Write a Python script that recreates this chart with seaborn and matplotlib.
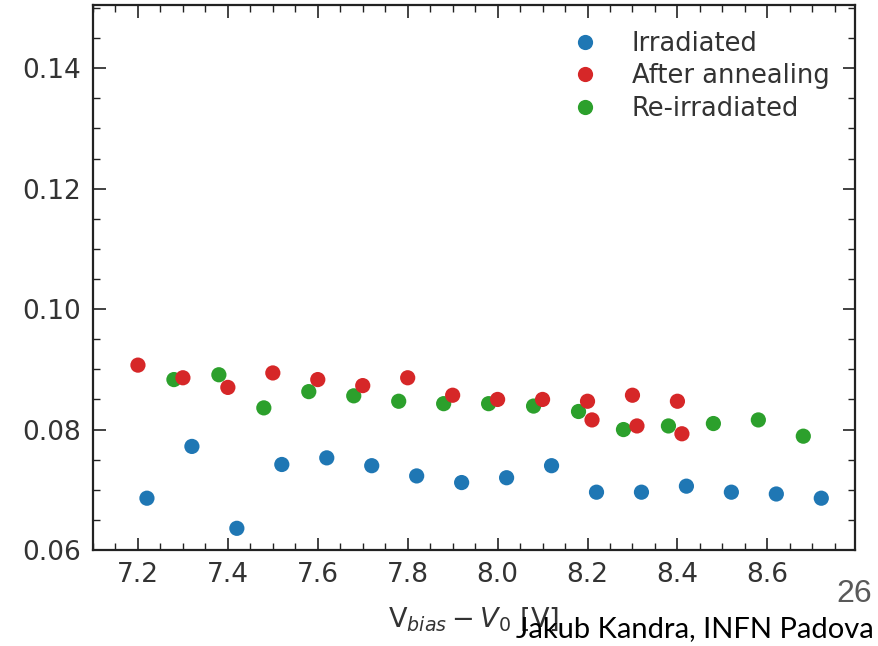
import numpy as np
import pandas as pd
import matplotlib
matplotlib.use("Agg")
import matplotlib.pyplot as plt
from matplotlib.ticker import MultipleLocator, FormatStrFormatter
import seaborn as sns

# Irradiated
x_irr = [7.22, 7.32, 7.42, 7.52, 7.62, 7.72, 7.82, 7.92, 8.02, 8.12, 8.22, 8.32, 8.42, 8.52, 8.62, 8.72]
y_irr = [0.0686, 0.0772, 0.0636, 0.0742, 0.0753, 0.0740, 0.0723, 0.0712, 0.0720, 0.0740,
         0.0696, 0.0696, 0.0706, 0.0696, 0.0693, 0.0686]

# After annealing
x_ann = [7.20, 7.30, 7.40, 7.50, 7.60, 7.70, 7.80, 7.90, 8.00, 8.10,
         8.20, 8.21, 8.30, 8.31, 8.40, 8.41]
y_ann = [0.0907, 0.0886, 0.0870, 0.0894, 0.0883, 0.0873, 0.0886, 0.0857, 0.0850, 0.0850,
         0.0847, 0.0816, 0.0857, 0.0806, 0.0847, 0.0793]

# Re-irradiated
x_rei = [7.28, 7.38, 7.48, 7.58, 7.68, 7.78, 7.88, 7.98, 8.08, 8.18, 8.28, 8.38, 8.48, 8.58, 8.68]
y_rei = [0.0883, 0.0891, 0.0836, 0.0863, 0.0856, 0.0847, 0.0843, 0.0843, 0.0839, 0.0830,
         0.0800, 0.0806, 0.0810, 0.0816, 0.0789]

labels = ["Irradiated", "After annealing", "Re-irradiated"]
colors = ["#1f77b4", "#d62728", "#2ca02c"]

# long table; annealed points come last so they sit on top
df = pd.concat([
    pd.DataFrame({"x": x_irr, "y": y_irr, "sample": labels[0]}),
    pd.DataFrame({"x": x_rei, "y": y_rei, "sample": labels[2]}),
    pd.DataFrame({"x": x_ann, "y": y_ann, "sample": labels[1]}),
], ignore_index=True)

sns.set_style("white")
plt.rcParams["font.family"] = ["DejaVu Sans"]
plt.rcParams["mathtext.fontset"] = "dejavusans"

fig = plt.figure(figsize=(8.79, 6.46), dpi=100)
ax = fig.add_axes([93 / 879, 96 / 646, (855 - 93) / 879, (550 - 5) / 646])

sns.scatterplot(data=df, x="x", y="y", hue="sample", hue_order=labels,
                palette=dict(zip(labels, colors)), s=120, linewidth=0,
                ax=ax, legend=True)

ax.set_xlim(7.1, 8.795)
ax.set_ylim(0.06, 0.1505)
ax.xaxis.set_major_locator(MultipleLocator(0.2))
ax.xaxis.set_minor_locator(MultipleLocator(0.05))
ax.yaxis.set_major_locator(MultipleLocator(0.02))
ax.yaxis.set_minor_locator(MultipleLocator(0.005))
ax.xaxis.set_major_formatter(FormatStrFormatter("%.1f"))
ax.yaxis.set_major_formatter(FormatStrFormatter("%.2f"))

ax.tick_params(which="both", direction="in", top=True, right=True,
               bottom=True, left=True, colors="#222222", labelcolor="#333333",
               labelsize=19)
ax.tick_params(which="major", length=9, width=1.2, pad=9)
ax.tick_params(which="minor", length=5, width=1.0)
for sp in ax.spines.values():
    sp.set_linewidth(1.6)
    sp.set_color("#222222")

ax.set_xlabel(r"V$_{bias}-V_0$ [V]", fontsize=19.5, color="#333333", labelpad=12)
ax.set_ylabel("")

leg = ax.legend(loc="upper right", frameon=False, fontsize=18.5,
                handletextpad=0.8, labelspacing=0.25, borderaxespad=0.6,
                markerscale=1.0)
for t in leg.get_texts():
    t.set_color("#333333")

# slide footer: page number and author
fig.text(0.992, 0.068, "26", ha="right", va="baseline", fontsize=23,
         color="#595959", family=["Liberation Sans", "DejaVu Sans"])
fig.text(0.994, 0.014, "Jakub Kandra, INFN Padova", ha="right", va="baseline",
         fontsize=21, color="black", family=["Lato", "DejaVu Sans"])

fig.savefig("out.png", dpi=100)
